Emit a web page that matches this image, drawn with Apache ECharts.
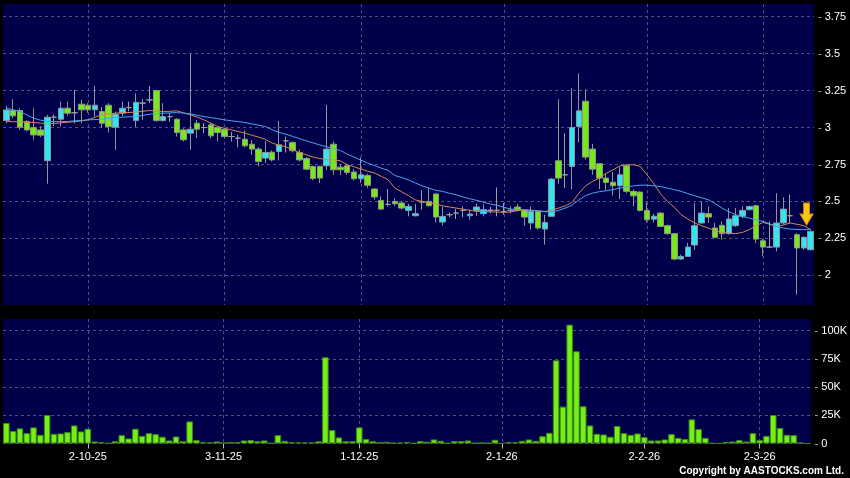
<!DOCTYPE html>
<html><head><meta charset="utf-8">
<script src="https://cdn.jsdelivr.net/npm/echarts@6/dist/echarts.min.js"></script>
<style>html,body{margin:0;padding:0;background:#000;}#c{width:850px;height:478px;}</style>
</head><body><div id="c"></div>
<script>
const categories = ['15-9-25','16-9-25','17-9-25','18-9-25','19-9-25','22-9-25','23-9-25','24-9-25','25-9-25','26-9-25','29-9-25','30-9-25',
'2-10-25','3-10-25','6-10-25','8-10-25','9-10-25','10-10-25','13-10-25','14-10-25','15-10-25','16-10-25','17-10-25','20-10-25','21-10-25','22-10-25','23-10-25','24-10-25','27-10-25','28-10-25','30-10-25','31-10-25',
'3-11-25','4-11-25','5-11-25','6-11-25','7-11-25','10-11-25','11-11-25','12-11-25','13-11-25','14-11-25','17-11-25','18-11-25','19-11-25','20-11-25','21-11-25','24-11-25','25-11-25','26-11-25','27-11-25','28-11-25',
'1-12-25','2-12-25','3-12-25','4-12-25','5-12-25','8-12-25','9-12-25','10-12-25','11-12-25','12-12-25','15-12-25','16-12-25','17-12-25','18-12-25','19-12-25','22-12-25','23-12-25','24-12-25','29-12-25','30-12-25','31-12-25',
'2-1-26','5-1-26','6-1-26','7-1-26','8-1-26','9-1-26','12-1-26','13-1-26','14-1-26','15-1-26','16-1-26','19-1-26','20-1-26','21-1-26','22-1-26','23-1-26','26-1-26','27-1-26','28-1-26','29-1-26','30-1-26',
'2-2-26','3-2-26','4-2-26','5-2-26','6-2-26','9-2-26','10-2-26','11-2-26','12-2-26','13-2-26','16-2-26','20-2-26','23-2-26','24-2-26','25-2-26','26-2-26','27-2-26',
'2-3-26','3-3-26','4-3-26','5-3-26','6-3-26','9-3-26','10-3-26','11-3-26'];
const xTickLabels = ['2-10-25','3-11-25','1-12-25','2-1-26','2-2-26','2-3-26'];
const priceTicks = [2, 2.25, 2.5, 2.75, 3, 3.25, 3.5, 3.75];
const volumeTicks = [0, 25000, 50000, 75000, 100000];

const opens = [3.047,3.115,3.115,3.041,3.0,2.984,2.775,3.07,3.056,3.131,
3.1,3.158,3.151,3.12,3.108,3.151,3.002,3.097,3.135,3.047,
3.165,3.187,3.25,3.047,3.074,3.056,2.984,2.962,3.029,3.0,
3.018,3.0,2.989,2.939,2.928,2.921,2.887,2.854,2.793,2.833,
2.838,2.91,2.899,2.831,2.79,2.737,2.737,2.741,2.887,2.732,
2.741,2.699,2.654,2.676,2.584,2.507,2.48,2.5,2.489,
2.439,2.403,2.495,2.5,2.55,2.36,2.41,2.421,2.439,2.403,
2.439,2.417,2.44,2.44,2.432,2.44,2.462,2.439,2.354,2.432,
2.313,2.399,2.775,2.68,2.737,3.007,3.178,2.854,2.755,2.658,
2.63,2.606,2.741,2.568,2.563,2.439,2.38,2.421,2.336,2.282,
2.11,2.128,2.205,2.354,2.417,2.32,2.338,2.282,2.336,2.399,
2.444,2.471,2.234,2.191,2.191,2.354,2.403,2.275,2.185,2.173];
const closes = [3.119,3.079,3.002,2.984,2.95,2.948,3.07,3.07,3.131,3.097,
3.1,3.12,3.12,3.151,3.029,3.007,3.09,3.131,3.135,3.171,
3.165,3.187,3.047,3.074,3.074,2.966,2.917,2.989,2.989,3.0,
2.944,2.966,2.939,2.939,2.928,2.876,2.854,2.77,2.831,2.781,
2.883,2.91,2.843,2.781,2.718,2.655,2.658,2.854,2.714,2.714,
2.696,2.654,2.68,2.609,2.53,2.448,2.48,2.484,2.455,
2.466,2.417,2.495,2.471,2.394,2.399,2.41,2.421,2.439,2.414,
2.462,2.444,2.44,2.44,2.432,2.44,2.439,2.394,2.432,2.32,
2.358,2.651,2.658,2.68,3.0,3.113,2.80,2.718,2.658,2.628,
2.606,2.68,2.568,2.538,2.439,2.376,2.40,2.331,2.282,2.11,
2.128,2.191,2.336,2.421,2.394,2.257,2.282,2.381,2.403,2.439,
2.466,2.245,2.191,2.191,2.354,2.448,2.403,2.185,2.257,2.297];
const lows = [3.029,3.063,2.984,2.975,2.917,2.935,2.62,3.011,3.007,3.08,
3.029,3.029,3.1,3.074,2.995,2.966,2.849,3.074,3.11,3.002,
3.052,3.165,3.04,3.04,3.04,2.939,2.906,2.849,2.928,2.962,
2.928,2.906,2.928,2.906,2.867,2.867,2.815,2.737,2.76,2.77,
2.777,2.831,2.831,2.77,2.714,2.642,2.624,2.714,2.68,2.68,
2.68,2.642,2.624,2.59,2.512,2.444,2.466,2.47,2.444,
2.399,2.399,2.444,2.466,2.358,2.338,2.394,2.381,2.394,2.376,
2.403,2.399,2.42,2.399,2.41,2.42,2.432,2.336,2.309,2.309,
2.207,2.394,2.62,2.59,2.583,2.899,2.782,2.68,2.583,2.579,
2.54,2.516,2.556,2.466,2.432,2.358,2.358,2.327,2.275,2.101,
2.105,2.124,2.173,2.349,2.354,2.25,2.241,2.275,2.327,2.387,
2.439,2.218,2.128,2.185,2.162,2.343,2.354,1.869,2.173,2.169];
const highs = [3.149,3.192,3.131,3.05,3.131,3.01,3.086,3.086,3.176,3.176,
3.254,3.187,3.165,3.281,3.14,3.165,3.108,3.176,3.176,3.232,
3.192,3.281,3.255,3.165,3.097,3.063,2.995,3.5,3.05,3.03,
3.03,3.007,2.995,2.97,2.95,2.98,2.915,2.867,2.91,2.845,
3.045,2.939,2.905,2.85,2.80,2.742,2.742,3.153,2.905,2.75,
2.755,2.72,2.80,2.687,2.59,2.534,2.584,2.52,2.5,
2.484,2.484,2.575,2.59,2.556,2.466,2.425,2.448,2.466,2.444,
2.484,2.48,2.462,2.595,2.489,2.466,2.484,2.448,2.466,2.436,
2.41,2.658,3.191,2.962,3.266,3.367,3.259,2.89,2.76,2.692,
2.70,2.732,2.748,2.58,2.568,2.493,2.417,2.426,2.343,2.287,
2.14,2.22,2.489,2.5,2.466,2.354,2.365,2.455,2.455,2.466,
2.471,2.478,2.245,2.365,2.556,2.527,2.545,2.286,2.264,2.304];
const volumes = [18200,11000,13400,9200,14300,7700,25300,8600,8900,10100,
16000,10700,13100,1800,1200,300,2000,7400,4500,13100,
6800,9200,8300,6000,2700,6200,2000,19600,3000,1200,
900,1800,600,1200,1200,2700,3000,2000,2700,300,
7400,2400,1200,900,900,900,2000,76500,11900,5400,
2000,2000,14300,3900,2000,1200,1500,600,600,
1200,300,2300,1500,3600,2400,300,2100,2100,2700,
600,900,600,3300,100,1200,1200,2400,3600,2400,
6500,9500,73800,32700,105400,81800,33000,16000,8600,8000,
6000,15500,9200,7700,8900,5700,2700,2700,3600,8300,
5000,3900,21400,12800,5000,300,100,1500,1800,3000,
1800,9200,3000,6800,25300,13700,7700,7400,900,0];
const maShort = [3.04,3.04,3.04,3.035,3.034,3.03,3.025,3.028,3.032,3.036,
3.04,3.045,3.052,3.07,3.086,3.092,3.097,3.1,3.102,3.104,
3.11,3.115,3.112,3.108,3.11,3.113,3.1,3.086,3.07,3.052,
3.03,3.007,2.995,2.984,2.973,2.962,2.948,2.935,2.92,2.895,
2.88,2.87,2.85,2.831,2.815,2.8,2.79,2.782,2.782,2.775,
2.748,2.735,2.719,2.705,2.692,2.67,2.647,2.59,2.565,
2.539,2.51,2.5,2.49,2.484,2.47,2.462,2.455,2.448,2.44,
2.432,2.432,2.43,2.428,2.426,2.428,2.438,2.444,2.44,2.436,
2.432,2.44,2.455,2.47,2.493,2.556,2.606,2.635,2.658,2.69,
2.714,2.74,2.748,2.748,2.737,2.68,2.62,2.55,2.5,2.46,
2.41,2.38,2.354,2.335,2.32,2.3,2.291,2.285,2.282,2.29,
2.309,2.335,2.358,2.345,2.331,2.34,2.354,2.345,2.336,2.31];
const maLong = [3.131,3.12,3.108,3.085,3.063,3.05,3.041,3.04,3.04,3.041,
3.045,3.048,3.052,3.054,3.056,3.062,3.068,3.07,3.072,3.074,
3.082,3.09,3.094,3.097,3.099,3.101,3.097,3.092,3.083,3.074,
3.067,3.06,3.052,3.046,3.04,3.034,3.025,3.016,3.007,2.985,
2.966,2.955,2.94,2.925,2.91,2.896,2.882,2.87,2.856,2.845,
2.82,2.8,2.78,2.76,2.743,2.725,2.71,2.675,2.662,
2.645,2.625,2.605,2.59,2.575,2.568,2.555,2.545,2.53,2.518,
2.507,2.495,2.482,2.473,2.46,2.448,2.446,2.443,2.44,2.436,
2.43,2.43,2.439,2.455,2.475,2.51,2.54,2.556,2.566,2.572,
2.58,2.59,2.597,2.605,2.61,2.61,2.606,2.6,2.59,2.58,
2.568,2.553,2.538,2.525,2.511,2.485,2.455,2.43,2.41,2.398,
2.387,2.375,2.365,2.348,2.331,2.32,2.313,2.31,2.309,2.309];
const arrowPrice = 2.414;

const ohlc = opens.map((o, i) => [o, closes[i], lows[i], highs[i]]);
const showLabel = (i, v) => xTickLabels.indexOf(categories[i]) >= 0;
const gridStyle = { color: '#50507e', type: [3, 3], width: 1 };
const FONT = '"Liberation Sans", Arial, sans-serif';

const chart = echarts.init(document.getElementById('c'), null, { renderer: 'canvas' });
chart.setOption({
  backgroundColor: '#000000',
  animation: false,
  grid: [
    { left: 3, top: 4, width: 811, height: 301, show: true, backgroundColor: '#00004a', borderWidth: 0 },
    { left: 3, top: 319, width: 811, height: 124.5, show: true, backgroundColor: '#00004a', borderWidth: 0 }
  ],
  xAxis: [
    { type: 'category', gridIndex: 0, data: categories, boundaryGap: true,
      axisLine: { show: false }, axisTick: { show: false }, axisLabel: { show: false },
      splitLine: { show: true, interval: showLabel, alignWithLabel: true, lineStyle: gridStyle } },
    { type: 'category', gridIndex: 1, data: categories, boundaryGap: true,
      axisLine: { show: false },
      axisTick: { show: true, interval: showLabel, alignWithLabel: true, length: 5, lineStyle: { color: '#bbbbbb' } },
      axisLabel: { show: true, interval: showLabel, color: '#ffffff', fontSize: 11, fontFamily: FONT, margin: 8 },
      splitLine: { show: true, interval: showLabel, alignWithLabel: true, lineStyle: gridStyle } }
  ],
  yAxis: [
    { type: 'value', gridIndex: 0, position: 'right', min: 1.799, max: 3.836, scale: true,
      axisLine: { show: false }, axisTick: { show: false, customValues: priceTicks },
      axisLabel: { customValues: priceTicks, margin: 4, formatter: v => '{d|-} ' + v,
        color: '#ffffff', fontSize: 11, fontFamily: FONT,
        rich: { d: { color: '#bbbbbb', fontSize: 11, fontFamily: FONT } } },
      splitLine: { show: true, lineStyle: gridStyle } },
    { type: 'value', gridIndex: 1, position: 'right', min: 0, max: 110400,
      axisLine: { show: false }, axisTick: { show: false, customValues: volumeTicks },
      axisLabel: { customValues: volumeTicks, margin: 4,
        formatter: v => '{d|-} ' + (v === 0 ? '0' : (v / 1000) + 'K'),
        color: '#ffffff', fontSize: 11, fontFamily: FONT,
        rich: { d: { color: '#bbbbbb', fontSize: 11, fontFamily: FONT } } },
      splitLine: { show: true, lineStyle: gridStyle } }
  ],
  series: [
    { type: 'candlestick', xAxisIndex: 0, yAxisIndex: 0, data: ohlc, barWidth: 6,
      itemStyle: { color: '#30e6f2', color0: '#76e81c', borderColor: '#8e969c', borderColor0: '#8e9a80',
        borderColorDoji: '#a0a0a0', borderWidth: 1 },
      markPoint: {
        silent: true, label: { show: false },
        data: [{ coord: [categories[categories.length - 1], arrowPrice],
          symbol: 'path://M3,0 L8,0 L8,10 L11,10 L5.5,20 L0,10 L3,10 Z', symbolSize: [13, 22], symbolOffset: [-4, 0],
          itemStyle: { color: '#f7c814', borderColor: '#e08a00', borderWidth: 1 } }]
      } },
    { type: 'line', xAxisIndex: 0, yAxisIndex: 0, data: maShort, symbol: 'none', silent: true,
      lineStyle: { color: '#d9864e', width: 1 } },
    { type: 'line', xAxisIndex: 0, yAxisIndex: 0, data: maLong, symbol: 'none', silent: true,
      lineStyle: { color: '#46a6ee', width: 1 } },
    { type: 'bar', xAxisIndex: 1, yAxisIndex: 1, data: volumes, barCategoryGap: '4%',
      itemStyle: { color: '#76ee18', borderColor: '#3d8a10', borderWidth: 1 } }
  ],
  graphic: [
    { type: 'text', right: 6, bottom: 2,
      style: { text: 'Copyright by AASTOCKS.com Ltd.', fill: '#ffffff', font: 'bold 10px ' + FONT } }
  ]
});
</script>
</body></html>
